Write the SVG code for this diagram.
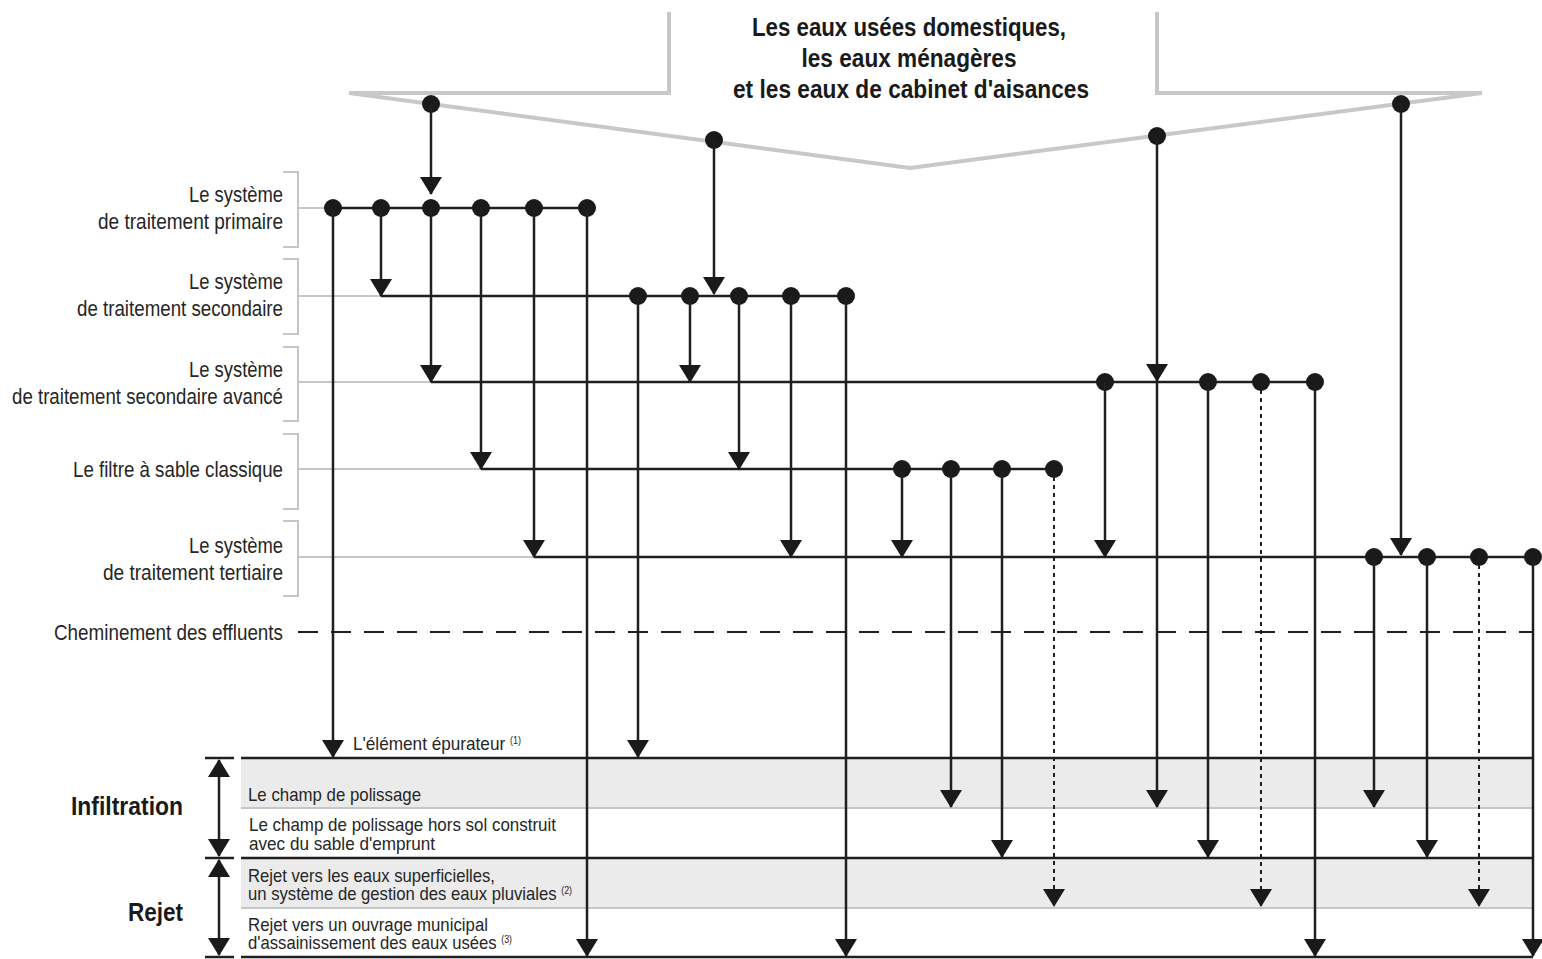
<svg xmlns="http://www.w3.org/2000/svg" width="1542" height="959" viewBox="0 0 1542 959">
<style>
.t{font-family:"Liberation Sans Narrow","Liberation Sans",Arial,sans-serif;font-size:22px;fill:#262626}
.sm{font-size:19px}
.sup{font-size:10px}
.b{font-weight:bold;fill:#1a1a1a}
.ln{stroke:#1f1f1f;stroke-width:2.5;fill:none}
.dl{stroke:#1f1f1f;stroke-width:2;stroke-dasharray:4 4;fill:none}
.dash{stroke:#1f1f1f;stroke-width:2;stroke-dasharray:20 13;fill:none}
.g{stroke:#c6c6c6;stroke-width:2;fill:none}
.gt{stroke:#c8c8c8;stroke-width:4;fill:none}
.dot{fill:#1a1a1a}
.band{fill:#ebebeb}
</style>
<defs>
<marker id="ah" markerUnits="userSpaceOnUse" markerWidth="18" markerHeight="22" viewBox="0 0 18 22" refX="17" refY="11" orient="auto"><path d="M0,0L18,11L0,22z" fill="#1a1a1a"/></marker>
</defs>

<g id="source">
<path class="gt" d="M349,93H669V12"/>
<path class="gt" d="M349,93L910,168L1482,93"/>
<path class="gt" d="M1157,12V93H1482"/>
<text class="t b" x="909" y="36" style="font-size:25px" text-anchor="middle" textLength="314" lengthAdjust="spacingAndGlyphs">Les eaux usées domestiques,</text>
<text class="t b" x="909" y="67" style="font-size:25px" text-anchor="middle" textLength="215" lengthAdjust="spacingAndGlyphs">les eaux ménagères</text>
<text class="t b" x="911" y="98" style="font-size:25px" text-anchor="middle" textLength="356" lengthAdjust="spacingAndGlyphs">et les eaux de cabinet d'aisances</text>
<circle class="dot" cx="431" cy="104" r="9"/>
<circle class="dot" cx="714" cy="140" r="9"/>
<circle class="dot" cx="1157" cy="136" r="9"/>
<circle class="dot" cx="1401" cy="104" r="9"/>
</g>

<g id="primaire">
<path class="g" d="M283,172H298V247H283M298,208H333"/>
<text class="t" x="283" y="202" text-anchor="end" textLength="94" lengthAdjust="spacingAndGlyphs">Le système</text>
<text class="t" x="283" y="229" text-anchor="end" textLength="185" lengthAdjust="spacingAndGlyphs">de traitement primaire</text>
<path class="ln" d="M333,208H587"/>
<circle class="dot" cx="333" cy="208" r="9"/><circle class="dot" cx="381" cy="208" r="9"/><circle class="dot" cx="431" cy="208" r="9"/><circle class="dot" cx="481" cy="208" r="9"/><circle class="dot" cx="534" cy="208" r="9"/><circle class="dot" cx="587" cy="208" r="9"/>
</g>

<g id="secondaire">
<path class="g" d="M283,259H298V334H283M298,296H381"/>
<text class="t" x="283" y="289" text-anchor="end" textLength="94" lengthAdjust="spacingAndGlyphs">Le système</text>
<text class="t" x="283" y="316" text-anchor="end" textLength="206" lengthAdjust="spacingAndGlyphs">de traitement secondaire</text>
<path class="ln" d="M381,296H846"/>
<circle class="dot" cx="638" cy="296" r="9"/><circle class="dot" cx="690" cy="296" r="9"/><circle class="dot" cx="739" cy="296" r="9"/><circle class="dot" cx="791" cy="296" r="9"/><circle class="dot" cx="846" cy="296" r="9"/>
</g>

<g id="secondaire-avance">
<path class="g" d="M283,347H298V421H283M298,382H431"/>
<text class="t" x="283" y="377" text-anchor="end" textLength="94" lengthAdjust="spacingAndGlyphs">Le système</text>
<text class="t" x="283" y="404" text-anchor="end" textLength="271" lengthAdjust="spacingAndGlyphs">de traitement secondaire avancé</text>
<path class="ln" d="M431,382H1315"/>
<circle class="dot" cx="1105" cy="382" r="9"/><circle class="dot" cx="1208" cy="382" r="9"/><circle class="dot" cx="1261" cy="382" r="9"/><circle class="dot" cx="1315" cy="382" r="9"/>
</g>

<g id="filtre-sable">
<path class="g" d="M283,434H298V509H283M298,469H481"/>
<text class="t" x="283" y="477" text-anchor="end" textLength="210" lengthAdjust="spacingAndGlyphs">Le filtre à sable classique</text>
<path class="ln" d="M481,469H1054"/>
<circle class="dot" cx="902" cy="469" r="9"/><circle class="dot" cx="951" cy="469" r="9"/><circle class="dot" cx="1002" cy="469" r="9"/><circle class="dot" cx="1054" cy="469" r="9"/>
</g>

<g id="tertiaire">
<path class="g" d="M283,521H298V596H283M298,557H534"/>
<text class="t" x="283" y="553" text-anchor="end" textLength="94" lengthAdjust="spacingAndGlyphs">Le système</text>
<text class="t" x="283" y="580" text-anchor="end" textLength="180" lengthAdjust="spacingAndGlyphs">de traitement tertiaire</text>
<path class="ln" d="M534,557H1533"/>
<circle class="dot" cx="1374" cy="557" r="9"/><circle class="dot" cx="1427" cy="557" r="9"/><circle class="dot" cx="1479" cy="557" r="9"/><circle class="dot" cx="1533" cy="557" r="9"/>
</g>

<g id="cheminement">
<text class="t" x="283" y="640" text-anchor="end" textLength="229" lengthAdjust="spacingAndGlyphs">Cheminement des effluents</text>
<path class="dash" d="M298,632H1533"/>
</g>

<g id="bands">
<rect class="band" x="241" y="759" width="1292" height="49"/>
<rect class="band" x="241" y="859" width="1292" height="49"/>
<path class="g" d="M241,808H1533M241,908H1533"/>
<path class="ln" d="M241,758H1533M205,758H234M241,858H1533M205,858H234M241,957H1533M205,957H234"/>
</g>

<g id="element-epurateur">
<text class="t sm" x="353" y="750" textLength="168" lengthAdjust="spacingAndGlyphs">L'élément épurateur <tspan class="sup" dy="-6">(1)</tspan></text>
</g>

<g id="infiltration">
<text class="t b" x="183" y="815" style="font-size:26px" text-anchor="end" textLength="112" lengthAdjust="spacingAndGlyphs">Infiltration</text>
</g>
<g id="champ-polissage">
<text class="t sm" x="248" y="801" textLength="173" lengthAdjust="spacingAndGlyphs">Le champ de polissage</text>
</g>
<g id="champ-hors-sol">
<text class="t sm" x="249" y="831" textLength="307" lengthAdjust="spacingAndGlyphs">Le champ de polissage hors sol construit</text>
<text class="t sm" x="249" y="850" textLength="186" lengthAdjust="spacingAndGlyphs">avec du sable d'emprunt</text>
</g>

<g id="rejet">
<text class="t b" x="183" y="921" style="font-size:26px" text-anchor="end" textLength="55" lengthAdjust="spacingAndGlyphs">Rejet</text>
</g>
<g id="rejet-superficielles">
<text class="t sm" x="248" y="882" textLength="247" lengthAdjust="spacingAndGlyphs">Rejet vers les eaux superficielles,</text>
<text class="t sm" x="248" y="900" textLength="324" lengthAdjust="spacingAndGlyphs">un système de gestion des eaux pluviales <tspan class="sup" dy="-6">(2)</tspan></text>
</g>
<g id="rejet-municipal">
<text class="t sm" x="248" y="931" textLength="240" lengthAdjust="spacingAndGlyphs">Rejet vers un ouvrage municipal</text>
<text class="t sm" x="248" y="949" textLength="264" lengthAdjust="spacingAndGlyphs">d'assainissement des eaux usées <tspan class="sup" dy="-6">(3)</tspan></text>
</g>

<g id="connectors">
<path class="ln" marker-end="url(#ah)" d="M219,808V760"/>
<path class="ln" marker-end="url(#ah)" d="M219,808V856"/>
<path class="ln" marker-end="url(#ah)" d="M219,908V860"/>
<path class="ln" marker-end="url(#ah)" d="M219,908V955"/>
<path class="ln" marker-end="url(#ah)" d="M431,104V194"/>
<path class="ln" marker-end="url(#ah)" d="M714,140V294"/>
<path class="ln" marker-end="url(#ah)" d="M1157,136V381"/>
<path class="ln" marker-end="url(#ah)" d="M1157,382V807"/>
<path class="ln" marker-end="url(#ah)" d="M1401,104V555"/>
<path class="ln" marker-end="url(#ah)" d="M333,208V757"/>
<path class="ln" marker-end="url(#ah)" d="M381,208V296"/>
<path class="ln" marker-end="url(#ah)" d="M431,208V382"/>
<path class="ln" marker-end="url(#ah)" d="M481,208V469"/>
<path class="ln" marker-end="url(#ah)" d="M534,208V557"/>
<path class="ln" marker-end="url(#ah)" d="M587,208V956"/>
<path class="ln" marker-end="url(#ah)" d="M638,296V757"/>
<path class="ln" marker-end="url(#ah)" d="M690,296V382"/>
<path class="ln" marker-end="url(#ah)" d="M739,296V469"/>
<path class="ln" marker-end="url(#ah)" d="M791,296V557"/>
<path class="ln" marker-end="url(#ah)" d="M846,296V956"/>
<path class="ln" marker-end="url(#ah)" d="M1105,382V557"/>
<path class="ln" marker-end="url(#ah)" d="M1208,382V857"/>
<path class="dl" marker-end="url(#ah)" d="M1261,382V906"/>
<path class="ln" marker-end="url(#ah)" d="M1315,382V956"/>
<path class="ln" marker-end="url(#ah)" d="M902,469V557"/>
<path class="ln" marker-end="url(#ah)" d="M951,469V807"/>
<path class="ln" marker-end="url(#ah)" d="M1002,469V857"/>
<path class="dl" marker-end="url(#ah)" d="M1054,469V906"/>
<path class="ln" marker-end="url(#ah)" d="M1374,557V807"/>
<path class="ln" marker-end="url(#ah)" d="M1427,557V857"/>
<path class="dl" marker-end="url(#ah)" d="M1479,557V906"/>
<path class="ln" marker-end="url(#ah)" d="M1533,557V956"/>
</g>
</svg>
